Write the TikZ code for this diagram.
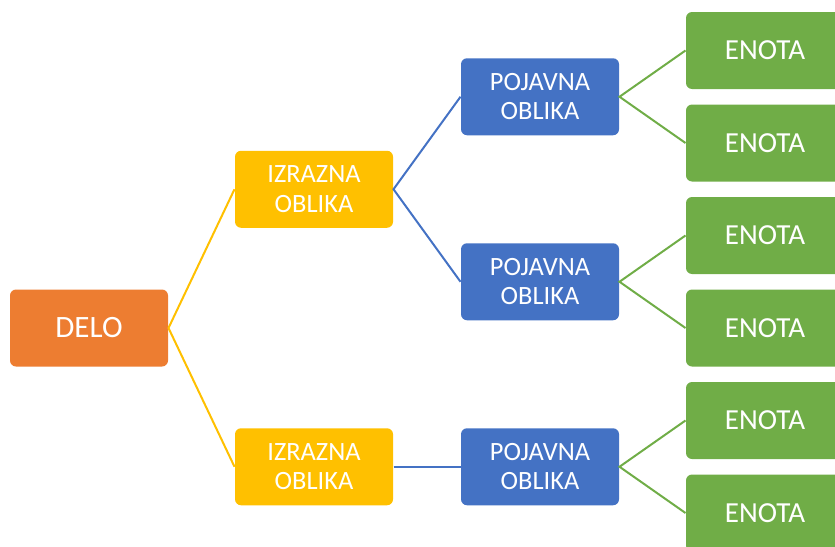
\documentclass[tikz,border=0pt]{standalone}
\usepackage{fontspec}
\setmainfont{Carlito}

\definecolor{deloOrange}{RGB}{237,125,49}
\definecolor{izraznaGold}{RGB}{255,192,0}
\definecolor{pojavnaBlue}{RGB}{68,114,196}
\definecolor{enotaGreen}{RGB}{112,173,71}

\tikzset{every picture/.style={line width=0.75pt}}
\tikzset{
  box/.style={rounded corners=4.5pt, text=white, align=center, inner sep=0pt,
    minimum width=118.5pt, minimum height=57.75pt},
  delobox/.style={box, fill=deloOrange, font=\fontsize{23.3}{27}\selectfont},
  izbox/.style={box, fill=izraznaGold, font=\fontsize{19.8}{22}\selectfont},
  pobox/.style={box, fill=pojavnaBlue, font=\fontsize{19.8}{22}\selectfont},
  enbox/.style={box, fill=enotaGreen, font=\fontsize{21.8}{25}\selectfont},
  link/.style={line width=1.5pt}
}

\begin{document}
\begin{tikzpicture}[x=0.75pt,y=0.75pt,yscale=-1,xscale=1]
\path[use as bounding box] (0,0) rectangle (835,546);
\clip (0,0) rectangle (835,546);

% Root
\node[delobox] (delo) at (89,328) {DELO};

% Izrazna oblika
\node[izbox] (izA) at (314,189.25) {IZRAZNA\\OBLIKA};
\node[izbox] (izB) at (314,466.75) {IZRAZNA\\OBLIKA};

% Pojavna oblika
\node[pobox] (poA) at (540,96.75) {POJAVNA\\OBLIKA};
\node[pobox] (poB) at (540,281.75) {POJAVNA\\OBLIKA};
\node[pobox] (poC) at (540,466.75) {POJAVNA\\OBLIKA};

% Enote
\node[enbox] (enA) at (765,50.5) {ENOTA};
\node[enbox] (enB) at (765,143) {ENOTA};
\node[enbox] (enC) at (765,235.5) {ENOTA};
\node[enbox] (enD) at (765,328) {ENOTA};
\node[enbox] (enE) at (765,420.5) {ENOTA};
\node[enbox] (enF) at (765,513) {ENOTA};

% Connectors
\draw[link, izraznaGold] (izA.west) -- (delo.east) -- (izB.west);
\draw[link, pojavnaBlue] (poA.west) -- (izA.east) -- (poB.west);
\draw[link, pojavnaBlue] (izB.east) -- (poC.west);
\draw[link, enotaGreen] (enA.west) -- (poA.east) -- (enB.west);
\draw[link, enotaGreen] (enC.west) -- (poB.east) -- (enD.west);
\draw[link, enotaGreen] (enE.west) -- (poC.east) -- (enF.west);

\end{tikzpicture}
\end{document}
